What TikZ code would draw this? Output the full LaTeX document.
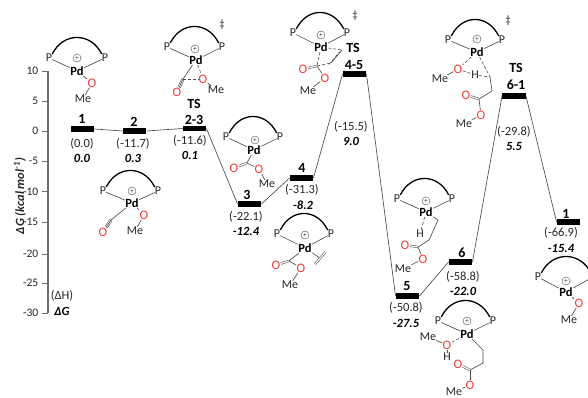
\documentclass[tikz,border=0pt]{standalone}
\usepackage{fontspec}
\setmainfont{Carlito}
\definecolor{ink}{HTML}{262626}
\definecolor{redo}{HTML}{F23A3A}
\definecolor{bondc}{HTML}{4A4A4A}
\tikzset{
 atomn/.style={inner sep=0pt,font=\fontsize{12}{12}\selectfont,text=ink},
 pdn/.style={inner sep=0.5pt,font=\fontsize{12.5}{12.5}\selectfont\bfseries,text=black},
 redn/.style={inner sep=0.3pt,font=\fontsize{13}{13}\selectfont,text=redo},
 plusn/.style={circle,draw=bondc,line width=.4pt,inner sep=0pt,minimum size=8pt,font=\fontsize{7.5}{7.5}\selectfont,text=bondc},
 bond/.style={draw=bondc,line width=.65pt},
 dashb/.style={draw=bondc,line width=.6pt,densely dashed},
 dbond/.style={draw=bondc,line width=.55pt,double=white,double distance=1.2pt},
 tbond/.style={draw=bondc,line width=.55pt,double=white,double distance=2pt},
 arcl/.style={draw=black,line width=1.3pt},
 lvl/.style={fill=black,draw=none,minimum width=23.5pt,minimum height=5.5pt,inner sep=0pt},
 link/.style={draw=bondc,line width=.65pt},
 lnum/.style={inner sep=0pt,font=\fontsize{14}{14}\selectfont\bfseries,text=black},
 enth/.style={inner sep=0pt,font=\fontsize{12.5}{12.5}\selectfont,text=ink},
 free/.style={inner sep=0pt,font=\fontsize{12.5}{12.5}\selectfont\bfseries\itshape,text=black},
 axn/.style={inner sep=0pt,anchor=east,font=\fontsize{11.5}{11.5}\selectfont,text=ink},
 dag/.style={inner sep=0pt,font=\fontsize{11}{11}\selectfont,text=ink},
}
% prefix, P1, P2, plus, Pd
\newcommand{\pdframe}[5]{%
 \node[atomn] (#1a) at (#2) {P};
 \node[atomn] (#1b) at (#3) {P};
 \node[plusn] (#1c) at (#4) {+};
 \node[pdn] (#1d) at (#5) {Pd};
 \draw[arcl] (#1a.north east) .. controls +(11,-22) and +(-11,-22) .. (#1b.north west);
 \draw[bond] (#1a) -- (#1d);
 \draw[bond] (#1b) -- (#1d);
}
\begin{document}
\begin{tikzpicture}[x=1pt,y=-1pt]
\useasboundingbox (0,0) rectangle (588,398);
\clip (0,0) rectangle (588,398);
% axis
\coordinate (axt) at (48,71);
\coordinate (axb) at (48,313);
\draw[draw=gray!85!black,line width=1.1pt] (axt) -- (axb);
\foreach \v/\y in {10/71,5/101,0/131,-5/161,-10/191.5,-15/222,-20/254,-25/283,-30/313}{
  \draw[draw=gray!85!black,line width=.7pt] (41.5,\y) -- (48,\y);
  \node[axn] at (38.5,\y) {\v};
}
\node[rotate=90,inner sep=0pt,font=\fontsize{12.5}{12.5}\selectfont\bfseries\itshape,text=ink] (axt1) at (20,196) {ΔG (kcal mol\textsuperscript{-1})};
\node[enth] (dh) at (62,296) {(ΔH)};
\node[free] (dg) at (62,311) {ΔG};

% levels
\node[lvl] (L1) at (82.5,129) {};
\node[lvl] (L2) at (134.5,131) {};
\node[lvl] (L23) at (194.5,128.5) {};
\node[lvl] (L3) at (249.5,204) {};
\node[lvl] (L4) at (301.5,178) {};
\node[lvl] (L45) at (354.5,74) {};
\node[lvl] (L5) at (407.5,296) {};
\node[lvl] (L6) at (460.5,262) {};
\node[lvl] (L61) at (514,96) {};
\node[lvl] (L1b) at (568.5,222) {};
\draw[link] (L1.east) -- (L2.west);
\draw[link] (L2.east) -- (L23.west);
\draw[link] (L23.east) -- (L3.west);
\draw[link] (L3.east) -- (L4.west);
\draw[link] (L4.east) -- (L45.west);
\draw[link] (L45.east) -- (L5.west);
\draw[link] (L5.east) -- (L6.west);
\draw[link] (L6.east) -- (L61.west);
\draw[link] (L61.east) -- (L1b.west);

% level labels
\node[lnum] (t1) at (82,119) {1};
\node[enth] (h1) at (82,144) {(0.0)};
\node[free] (g1) at (82,158) {0.0};
\node[lnum] (t2) at (134,122) {2};
\node[enth] (h2) at (133,144) {(-11.7)};
\node[free] (g2) at (133,158) {0.3};
\node[lnum] (t23a) at (194,104) {TS};
\node[lnum] (t23b) at (194,120) {2-3};
\node[enth] (h23) at (190,141) {(-11.6)};
\node[free] (g23) at (190,155) {0.1};
\node[lnum] (t3) at (247,195) {3};
\node[enth] (h3) at (246,217) {(-22.1)};
\node[free] (g3) at (246,231) {-12.4};
\node[lnum] (t4) at (302,168) {4};
\node[enth] (h4) at (302,190) {(-31.3)};
\node[free] (g4) at (303,205) {-8.2};
\node[lnum] (t45a) at (353,48) {TS};
\node[lnum] (t45b) at (354,65) {4-5};
\node[enth] (h45) at (351,127) {(-15.5)};
\node[free] (g45) at (351,141) {9.0};
\node[lnum] (t5) at (407,286.5) {5};
\node[enth] (h5) at (406,308) {(-50.8)};
\node[free] (g5) at (406,323) {-27.5};
\node[lnum] (t6) at (462,253) {6};
\node[enth] (h6) at (463,277) {(-58.8)};
\node[free] (g6) at (463,291) {-22.0};
\node[lnum] (t61a) at (516,68) {TS};
\node[lnum] (t61b) at (516,85) {6-1};
\node[enth] (h61) at (514,132) {(-29.8)};
\node[free] (g61) at (514,146) {5.5};
\node[lnum] (t1b) at (566,213.5) {1};
\node[enth] (h1b) at (561,233) {(-66.9)};
\node[free] (g1b) at (561,248) {-15.4};

% molecule 1
\pdframe{A}{49,58}{105,58}{77,58}{77,71}
\node[redn] (Ao) at (92,83) {O};
\node[atomn] (Am) at (83,99) {Me};
\draw[bond] (Ad) -- (Ao);
\draw[bond] (Ao) -- (Am);

% molecule 2
\pdframe{B}{103,191}{158,191}{132,191}{132,203}
\node[redn] (Bo) at (144,215) {O};
\node[atomn] (Bm) at (135,231) {Me};
\node[redn] (Bc) at (103,232) {O};
\coordinate (Bt) at (111,220);
\draw[bond] (Bd) -- (Bt);
\draw[tbond] (Bt) -- (Bc);
\draw[bond] (Bt) -- (Bc);
\draw[bond] (Bd) -- (Bo);
\draw[bond] (Bo) -- (Bm);

% TS 2-3
\pdframe{C}{167,47}{222,47}{195,49}{196,60}
\node[dag] (Cdg) at (222,25) {‡};
\node[redn] (Co) at (177,92) {O};
\node[redn] (Cq) at (203,79) {O};
\node[atomn] (Cm) at (216,90) {Me};
\coordinate (Cc) at (183,79);
\draw[bond] (Cd) -- (Cc);
\draw[tbond] (Cc) -- (Co);
\draw[bond] (Cc) -- (Co);
\draw[dashb] (Cc) -- (Cq);
\draw[dashb] (Cd) -- (Cq);
\draw[bond] (Cq) -- (Cm);

% molecule 3
\pdframe{D}{226,137}{280,137}{255,140}{254,150}
\coordinate (Dc) at (247,163);
\node[redn] (Do) at (234,168) {O};
\node[redn] (Dq) at (259,169) {O};
\node[atomn] (Dm) at (267,184) {Me};
\draw[bond] (Dd) -- (Dc);
\draw[dbond] (Dc) -- (Do);
\draw[bond] (Dc) -- (Dq);
\draw[bond] (Dq) -- (Dm);

% molecule 4
\pdframe{E}{277,234}{331,234}{305,235}{305,248}
\coordinate (Ec) at (289,261);
\node[redn] (Eo) at (276,265) {O};
\node[redn] (Eq) at (301,268) {O};
\node[atomn] (Em) at (290,285) {Me};
\coordinate (Ev) at (320,258);
\coordinate (Ev1) at (315,264);
\coordinate (Ev2) at (325.5,252);
\draw[bond] (Ed) -- (Ec);
\draw[dbond] (Ec) -- (Eo);
\draw[bond] (Ec) -- (Eq);
\draw[bond] (Eq) -- (Em);
\draw[bond] (Ed) -- (Ev);
\draw[dbond] (Ev1) -- (Ev2);

% TS 4-5
\pdframe{F}{293,33}{347,33}{321,35}{321,47}
\node[dag] (Fdg) at (355,16) {‡};
\coordinate (Fc) at (317,66);
\coordinate (Fv1) at (331,63);
\coordinate (Fv2) at (342,50);
\node[redn] (Fo) at (303,69) {O};
\node[redn] (Fq) at (325,78) {O};
\node[atomn] (Fm) at (308,91) {Me};
\draw[dashb] (Fd) -- (Fc);
\draw[dashb] (Fd) -- (Fv2);
\draw[dashb] (Fc) -- (Fv1);
\draw[bond] (Fv1) -- (Fv2);
\draw[dashb] ([xshift=-2pt,yshift=-1.5pt]Fv1) -- ([xshift=-2pt,yshift=-1.5pt]Fv2);
\draw[dbond] (Fc) -- (Fo);
\draw[bond] (Fc) -- (Fq);
\draw[bond] (Fq) -- (Fm);

% molecule 5
\pdframe{G}{397,199}{452,199}{426,201}{426,212}
\node[atomn] (Gh) at (420,234) {H};
\coordinate (Gk1) at (438,220);
\coordinate (Gk2) at (429,240);
\coordinate (Gc) at (418,247);
\node[redn] (Go) at (405,245) {O};
\node[redn] (Gq) at (423,259) {O};
\node[atomn] (Gm) at (403,269) {Me};
\draw[dashb] (Gd) -- (Gh);
\draw[bond] (Gd) -- (Gk1) -- (Gk2) -- (Gc);
\draw[dbond] (Gc) -- (Go);
\draw[bond] (Gc) -- (Gq);
\draw[bond] (Gq) -- (Gm);

% molecule 6
\pdframe{H}{438,321}{493,321}{467,321}{467,334}
\node[atomn] (Hn) at (428,337) {Me};
\node[redn] (Hp) at (447,345) {O};
\node[atomn] (Hh) at (447,357) {H};
\coordinate (Hk1) at (483,350);
\coordinate (Hk2) at (483,363);
\coordinate (Hc) at (470,370);
\node[redn] (Ho) at (458,364) {O};
\node[redn] (Hq) at (470,385) {O};
\node[atomn] (Hm) at (454,392) {Me};
\draw[bond] (Hn) -- (Hp);
\draw[bond] (Hp) -- (Hh);
\draw[dashb] (Hp) -- (Hd);
\draw[bond] (Hd) -- (Hk1) -- (Hk2) -- (Hc);
\draw[dbond] (Hc) -- (Ho);
\draw[bond] (Hc) -- (Hq);
\draw[bond] (Hq) -- (Hm);

% TS 6-1
\pdframe{J}{448,40}{502,40}{477,39}{477,52}
\node[dag] (Jdg) at (508,21) {‡};
\node[redn] (Jp) at (458,69) {O};
\node[atomn] (Jn) at (440,79) {Me};
\node[atomn] (Jh) at (475,75) {H};
\coordinate (Jk1) at (490,77);
\coordinate (Jk2) at (492,91);
\coordinate (Jc) at (479,99);
\node[redn] (Jo) at (466,95) {O};
\node[redn] (Jq) at (481,115) {O};
\node[atomn] (Jm) at (464,124) {Me};
\draw[dashb] (Jd) -- (Jp);
\draw[dashb] (Jd) -- (Jk1);
\draw[bond] (Jp) -- (Jn);
\draw[dashb] (Jp) -- (Jh);
\draw[dashb] (Jh) -- (Jk1);
\draw[bond] (Jk1) -- (Jk2) -- (Jc);
\draw[dbond] (Jc) -- (Jo);
\draw[bond] (Jc) -- (Jq);
\draw[bond] (Jq) -- (Jm);

% molecule 1 (right): its second P lies beyond the picture's edge
\node[atomn] (Ka) at (538,277) {P};
\coordinate (Kb) at (593,277);
\coordinate (Kt) at (591,273);
\node[plusn] (Kc) at (566,281) {+};
\node[pdn] (Kd) at (566,292) {Pd};
\draw[arcl] (Ka.north east) .. controls +(11,-22) and +(-11,-22) .. (Kt);
\draw[bond] (Ka) -- (Kd);
\draw[bond] (Kb) -- (Kd);
\node[redn] (Ko) at (579,303) {O};
\node[atomn] (Km) at (569,320) {Me};
\draw[bond] (Kd) -- (Ko);
\draw[bond] (Ko) -- (Km);
\end{tikzpicture}
\end{document}
